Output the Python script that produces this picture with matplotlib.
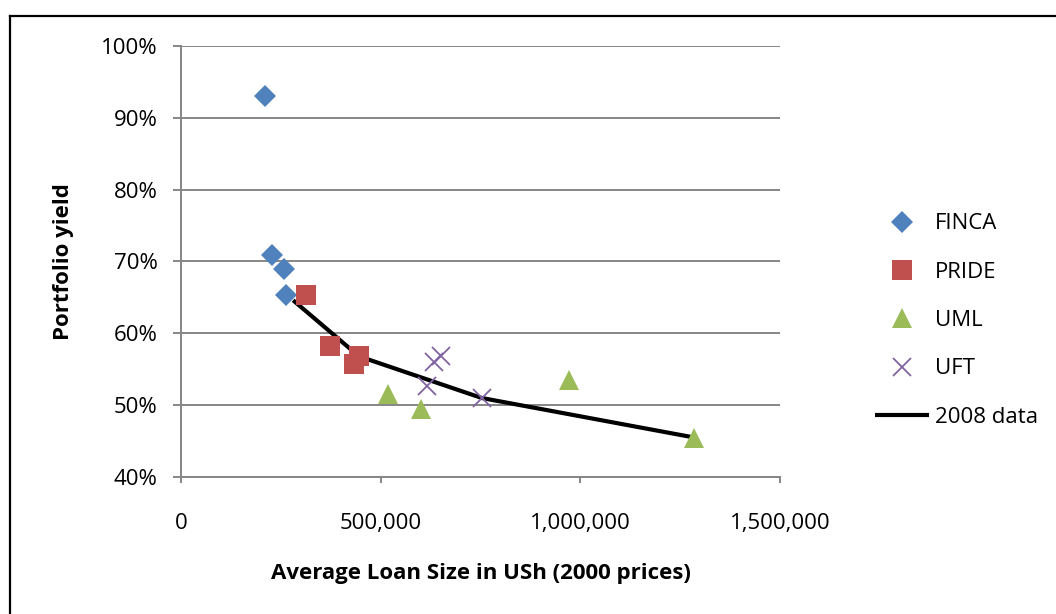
import matplotlib
matplotlib.use("Agg")
import matplotlib.pyplot as plt
from matplotlib.lines import Line2D
from matplotlib.ticker import FuncFormatter, FixedLocator

plt.rcParams['font.family'] = ['Open Sans', 'DejaVu Sans']

# Average loan size (USh, 2000 prices) and portfolio yield (%)
finca_x = [210000, 226700, 258000, 264000]
finca_y = [93.1, 70.9, 68.9, 65.3]
pride_x = [312500, 374000, 445800, 433000]
pride_y = [65.3, 58.2, 56.9, 55.7]
uml_x = [518000, 601700, 972500, 1285000]
uml_y = [51.5, 49.4, 53.5, 45.4]
uft_x = [633000, 651700, 616000, 753000]
uft_y = [56.0, 56.9, 52.7, 51.0]
data2008_x = [280800, 445800, 753000, 1285000]
data2008_y = [64.6, 56.8, 51.0, 45.5]

x_ticks = [0, 500000, 1000000, 1500000]
y_ticks = [40, 50, 60, 70, 80, 90, 100]

W, H = 1056, 614
fig = plt.figure(figsize=(W / 100, H / 100), dpi=100)
ax = fig.add_axes([181 / W, 1 - 477 / H, (780 - 181) / W, (477 - 46) / H])

grey = '#868686'
fs = 16

ax.plot(data2008_x, data2008_y, color='black', lw=3.0, zorder=2,
        solid_capstyle='butt', label='2008 data')
ax.plot(finca_x, finca_y, ls='none', marker='D', ms=11, mew=0,
        color='#4F81BD', zorder=3, label='FINCA')
ax.plot(pride_x, pride_y, ls='none', marker='s', ms=14.4, mew=0,
        color='#C0504D', zorder=3, label='PRIDE')
ax.plot(uml_x, uml_y, ls='none', marker='^', ms=14.4, mew=0,
        color='#9BBB59', zorder=3, label='UML')
ax.plot(uft_x, uft_y, ls='none', marker='x', ms=13.5, mew=1.3,
        color='#8064A2', zorder=3, label='UFT')

ax.set_xlim(0, 1500000)
ax.set_ylim(40, 100)
ax.xaxis.set_major_locator(FixedLocator(x_ticks))
ax.yaxis.set_major_locator(FixedLocator(y_ticks))
ax.xaxis.set_major_formatter(FuncFormatter(lambda v, p: f"{v:,.0f}"))
ax.yaxis.set_major_formatter(FuncFormatter(lambda v, p: f"{v:.0f}%"))

ax.grid(axis='y', color=grey, lw=1.4, zorder=0)
ax.set_axisbelow(True)
for side in ('top', 'right'):
    ax.spines[side].set_visible(False)
for side in ('left', 'bottom'):
    ax.spines[side].set_color(grey)
    ax.spines[side].set_linewidth(1.4)

ax.tick_params(axis='y', direction='out', length=6, width=1.4, color=grey,
               labelsize=fs, pad=11, labelcolor='black')
ax.tick_params(axis='x', direction='out', length=4.5, width=1.4, color=grey,
               labelsize=fs, pad=21.5, labelcolor='black')

fig.text(480.5 / W, 1 - 574 / H, 'Average Loan Size in USh (2000 prices)',
         ha='center', va='center', fontsize=fs, fontweight='bold')
fig.text(63 / W, 1 - 262 / H, 'Portfolio yield', rotation=90,
         ha='center', va='center', fontsize=fs, fontweight='bold')

handles, labels = ax.get_legend_handles_labels()
order = ['FINCA', 'PRIDE', 'UML', 'UFT', '2008 data']
hmap = dict(zip(labels, handles))
ax.legend([hmap[k] for k in order], order, loc='center left',
          bbox_to_anchor=(875 / W, 1 - 320.5 / H), bbox_transform=fig.transFigure,
          frameon=False, fontsize=fs, handlelength=2.45, handletextpad=0.25,
          labelspacing=1.23, borderpad=0, borderaxespad=0, numpoints=1)

# chart frame edges
fig.add_artist(Line2D([10 / W, 1], [1 - 16 / H, 1 - 16 / H], color='black',
                      lw=1.6, transform=fig.transFigure))
fig.add_artist(Line2D([10 / W, 10 / W], [0, 1 - 16 / H], color='black',
                      lw=1.6, transform=fig.transFigure))

fig.savefig('out.png', dpi=100)
